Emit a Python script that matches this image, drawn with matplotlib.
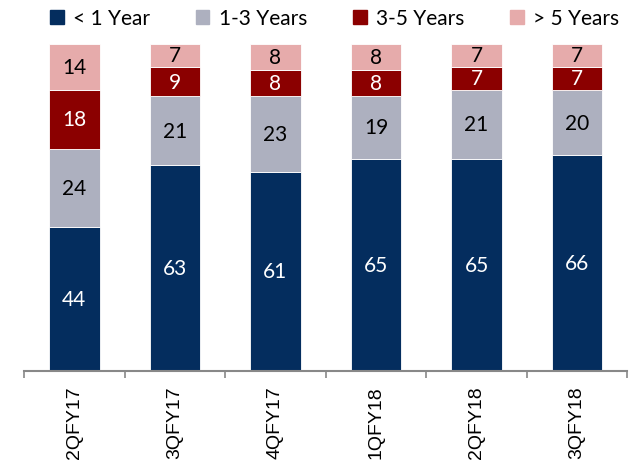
import numpy as np
import matplotlib
matplotlib.use('Agg')
import matplotlib.pyplot as plt
from matplotlib.patches import Patch

quarters = ['2QFY17', '3QFY17', '4QFY17', '1QFY18', '2QFY18', '3QFY18']
buckets = ['< 1 Year', '1-3 Years', '3-5 Years', '> 5 Years']
lt_1y = [44, 63, 61, 65, 65, 66]
y1_3 = [24, 21, 23, 19, 21, 20]
y3_5 = [18, 9, 8, 8, 7, 7]
gt_5y = [14, 7, 8, 8, 7, 7]

colors = ['#042d5e', '#adb0bf', '#8b0000', '#e6abab']
text_colors = ['white', 'black', 'white', 'black']
label_font = 'Lato'

fig = plt.figure(figsize=(6.35, 4.64), dpi=100)
ax = fig.add_axes([0.038, 0.198, 0.950, 0.705])

x = np.arange(len(quarters))
bottom = np.zeros(len(quarters))
for vals, col, tc in zip([lt_1y, y1_3, y3_5, gt_5y], colors, text_colors):
    vals = np.array(vals)
    ax.bar(x, vals, bottom=bottom, width=0.5, color=col, edgecolor='white', linewidth=0.6)
    for xi, b, v in zip(x, bottom, vals):
        ax.text(xi, b + v / 2, str(v), ha='center', va='center', color=tc,
                fontsize=15, family=label_font)
    bottom += vals

ax.set_xlim(-0.5, len(quarters) - 0.5)
ax.set_ylim(0, 100)
ax.set_yticks([])
for s in ['top', 'right', 'left']:
    ax.spines[s].set_visible(False)
ax.spines['bottom'].set_color('#888888')
ax.spines['bottom'].set_linewidth(1.5)

# ticks sit between the bars, labels sit under the bars
ax.set_xticks(np.arange(-0.5, len(quarters)), minor=False)
ax.set_xticklabels([])
ax.tick_params(axis='x', which='major', length=5, width=1.2, color='#888888')
ax.set_xticks(x, minor=True)
ax.set_xticklabels(quarters, minor=True, rotation=90, fontsize=14, family='Liberation Sans')
ax.tick_params(axis='x', which='minor', length=0, pad=10)

handles = [Patch(color=c) for c in colors]
fig.legend(handles, buckets, loc='upper center', bbox_to_anchor=(0.527, 1.02), ncol=4,
           frameon=False, prop={'family': label_font, 'size': 15},
           handlelength=0.65, handleheight=0.65, handletextpad=0.45, columnspacing=2.2)

fig.savefig('out.png', dpi=100)
